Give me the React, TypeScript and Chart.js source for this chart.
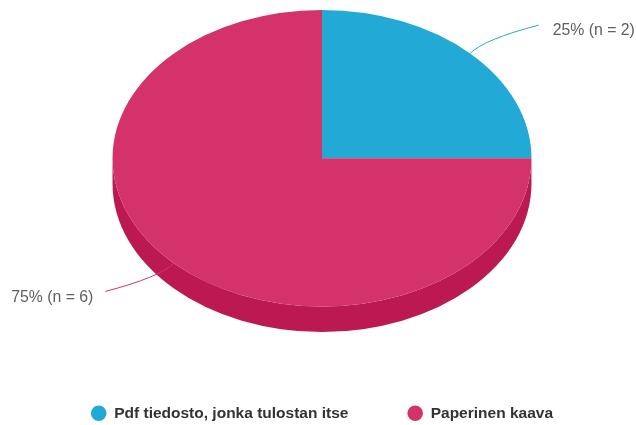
import React, { useEffect, useRef } from "react";
import { Chart, registerables } from "chart.js";

Chart.register(...registerables);

// ---- data ----
const categories = ["Pdf tiedosto, jonka tulostan itse", "Paperinen kaava"];
const counts = [2, 6];
const topColors = ["#23a9d6", "#d4326b"];
const sideColors = ["#1a8db5", "#bc1952"];

// ---- style constants ----
const SCALE_X = 1.301;
const SCALE_Y = 0.921;
const LABEL_DX = 97;
const LABEL_DY = 40;
const FONT = '"Liberation Sans", Arial, Helvetica, sans-serif';

function geometry(chart: any) {
  const meta = chart.getDatasetMeta(0);
  const first = meta && meta.data[0];
  if (!first) return null;
  const { x, y, outerRadius } = first.getProps(["x", "y", "outerRadius"], true);
  const rx = outerRadius * SCALE_X;
  const ry = outerRadius * SCALE_Y;
  return {
    x,
    y,
    r: outerRadius,
    rx,
    ry,
    ex: x,
    ey: y - outerRadius + ry,
    depth: 2 * (outerRadius - ry),
  };
}

const pie3d = {
  id: "pie3d",
  beforeDatasetsDraw(chart: any) {
    const g = geometry(chart);
    chart.$pie3dSaved = false;
    if (!g) return;
    const ctx = chart.ctx as CanvasRenderingContext2D;
    const meta = chart.getDatasetMeta(0);
    const TAU = Math.PI * 2;
    meta.data.forEach((arc: any, i: number) => {
      const { startAngle, endAngle } = arc.getProps(["startAngle", "endAngle"], true);
      for (const k of [-1, 0, 1]) {
        const lo = Math.max(startAngle, k * TAU);
        const hi = Math.min(endAngle, Math.PI + k * TAU);
        if (hi > lo) {
          ctx.save();
          ctx.beginPath();
          ctx.ellipse(g.ex, g.ey, g.rx, g.ry, 0, lo, hi, false);
          ctx.ellipse(g.ex, g.ey + g.depth, g.rx, g.ry, 0, hi, lo, true);
          ctx.closePath();
          ctx.fillStyle = sideColors[i];
          ctx.fill();
          ctx.restore();
        }
      }
    });
    ctx.save();
    ctx.translate(g.ex, g.ey);
    ctx.scale(SCALE_X, SCALE_Y);
    ctx.translate(-g.x, -g.y);
    chart.$pie3dSaved = true;
  },
  afterDatasetsDraw(chart: any) {
    if (chart.$pie3dSaved) {
      chart.ctx.restore();
      chart.$pie3dSaved = false;
    }
  },
  afterDraw(chart: any) {
    const g = geometry(chart);
    if (!g) return;
    const ctx = chart.ctx as CanvasRenderingContext2D;
    const meta = chart.getDatasetMeta(0);
    const values = chart.data.datasets[0].data as number[];
    const total = values.reduce((a, b) => a + b, 0);
    meta.data.forEach((arc: any, i: number) => {
      const { startAngle, endAngle } = arc.getProps(["startAngle", "endAngle"], true);
      const mid = (startAngle + endAngle) / 2;
      const c = Math.cos(mid);
      const s = Math.sin(mid);
      const px = g.ex + g.rx * c;
      const py = g.ey + g.ry * s;
      const qx = g.ex + (g.rx + 20) * c;
      const qy = g.ey + (g.ry + 20) * s;
      const ax = g.ex + (g.rx + LABEL_DX) * c;
      const ay = g.ey + (g.ry + LABEL_DY) * s;
      ctx.save();
      ctx.beginPath();
      ctx.moveTo(px, py);
      ctx.quadraticCurveTo(qx, qy, ax, ay);
      ctx.strokeStyle = topColors[i];
      ctx.lineWidth = 1;
      ctx.stroke();
      const pct = Math.round((values[i] / total) * 100);
      const text = `${pct}% (n = ${values[i]})`;
      ctx.font = `15.8px ${FONT}`;
      ctx.fillStyle = "#5f5f5f";
      ctx.textBaseline = "middle";
      ctx.textAlign = c >= 0 ? "left" : "right";
      ctx.fillText(text, ax + (c >= 0 ? 14 : -12), ay + 6);
      ctx.restore();
    });
  },
};

export default function App() {
  const canvasRef = useRef<HTMLCanvasElement | null>(null);

  useEffect(() => {
    if (!canvasRef.current) return;
    const chart = new Chart(canvasRef.current, {
      type: "pie",
      data: {
        labels: categories,
        datasets: [
          {
            data: counts,
            backgroundColor: topColors,
            borderWidth: 0,
          },
        ],
      },
      options: {
        animation: false,
        responsive: true,
        maintainAspectRatio: false,
        events: [],
        layout: { padding: { top: 10, left: 8, right: 0, bottom: -6 } },
        plugins: {
          tooltip: { enabled: false },
          legend: {
            position: "bottom",
            title: {
              display: true,
              text: " ",
              color: "rgba(0,0,0,0)",
              padding: { top: 4.5, bottom: 0 },
              font: { size: 10, lineHeight: 1 },
            },
            labels: {
              usePointStyle: true,
              pointStyle: "circle",
              boxHeight: 11,
              padding: 59,
              color: "#333333",
              font: { family: FONT, size: 15.5, weight: "bold" },
            },
          },
        },
      },
      plugins: [pie3d],
    });
    return () => chart.destroy();
  }, []);

  return (
    <div style={{ position: "fixed", left: 0, top: 0, width: 636, height: 425, background: "#ffffff" }}>
      <canvas ref={canvasRef} />
    </div>
  );
}
